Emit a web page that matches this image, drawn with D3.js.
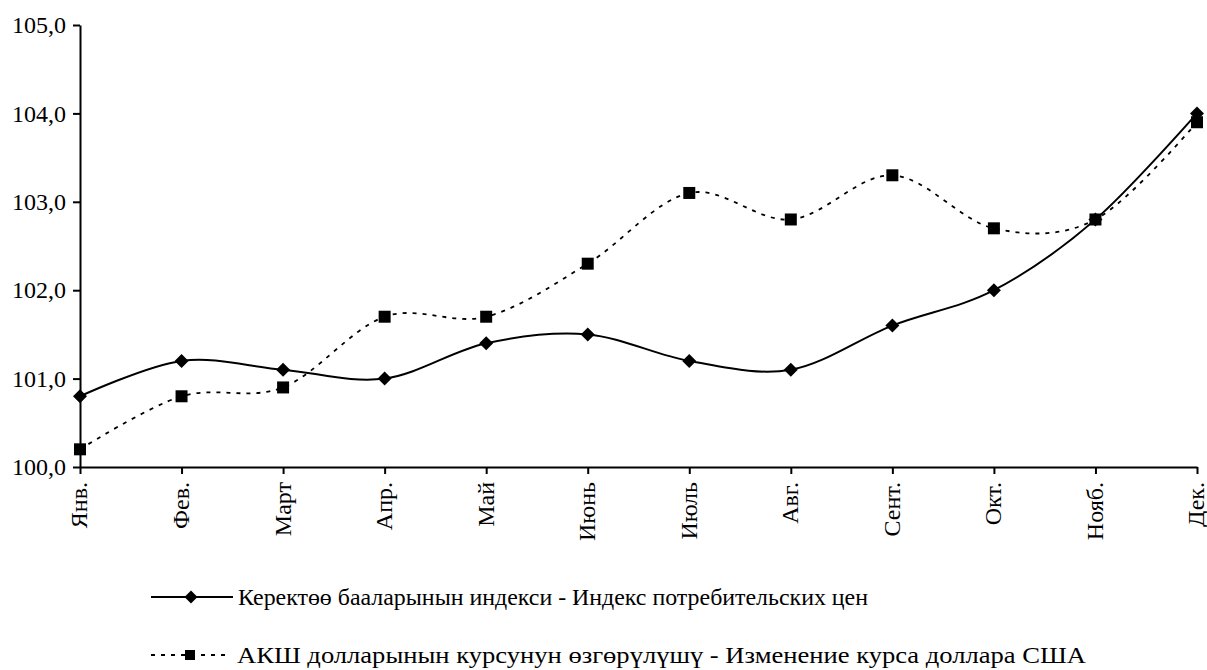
<!DOCTYPE html>
<html>
<head>
<meta charset="utf-8">
<script src="https://cdn.jsdelivr.net/npm/d3@7"></script>
<style>
	body { margin: 0; background: #fff; }
</style>
</head>
<body>
<svg id="chart" width="1207" height="670" viewBox="0 0 1207 670"></svg>
<script>
// months on the x axis
const months = ["Янв.", "Фев.", "Март", "Апр.", "Май", "Июнь", "Июль", "Авг.", "Сент.", "Окт.", "Нояб.", "Дек."];
// consumer price index
const cpi = [100.8, 101.2, 101.1, 101.0, 101.4, 101.5, 101.2, 101.1, 101.6, 102.0, 102.8, 104.0];
// change of USD rate
const usd = [100.2, 100.8, 100.9, 101.7, 101.7, 102.3, 103.1, 102.8, 103.3, 102.7, 102.8, 103.9];
const yTicks = [100, 101, 102, 103, 104, 105];
const legendLabels = [
	"Керектөө бааларынын индекси - Индекс потребительских цен",
	"АКШ долларынын курсунун өзгөрүлүшү - Изменение курса доллара США"
];

const FONT = "Liberation Serif";
const svg = d3.select("#chart");

const x = d3.scalePoint()
	.domain(months)
	.range([80, 1197]);

const y = d3.scaleLinear()
	.domain([100, 105])
	.range([467, 25]);

// y axis
const yAxis = svg.append("g")
	.attr("transform", "translate(80,0)")
	.call(d3.axisLeft(y).tickValues(yTicks).tickSize(7).tickSizeOuter(0)
		.tickFormat(d => d3.format(".1f")(d).replace(".", ",")));
yAxis.attr("font-family", null);
yAxis.select(".domain").attr("stroke", "#000").attr("stroke-width", 2);
yAxis.selectAll(".tick line").attr("stroke", "#000").attr("stroke-width", 2);
yAxis.selectAll(".tick text")
	.style("font-family", FONT)
	.style("font-size", "24px")
	.attr("fill", "#000")
	.attr("x", -14);

// x axis
const xAxis = svg.append("g")
	.attr("transform", "translate(0,467)")
	.call(d3.axisBottom(x).tickSize(7).tickSizeOuter(0));
xAxis.attr("font-family", null);
xAxis.select(".domain").attr("stroke", "#000").attr("stroke-width", 2);
xAxis.selectAll(".tick line").attr("stroke", "#000").attr("stroke-width", 2);
xAxis.selectAll(".tick text")
	.style("font-family", FONT)
	.style("font-size", "24px")
	.attr("fill", "#000")
	.attr("transform", "rotate(-90)")
	.attr("text-anchor", "end")
	.attr("x", -15)
	.attr("y", -1)
	.attr("dy", "0.33em");

const line = d3.line()
	.x((d, i) => x(months[i]))
	.y(d => y(d))
	.curve(d3.curveCatmullRom.alpha(0));

svg.append("path")
	.datum(usd)
	.attr("fill", "none")
	.attr("stroke", "#000")
	.attr("stroke-width", 1.8)
	.attr("stroke-dasharray", "4,6")
	.attr("d", line);

svg.append("path")
	.datum(cpi)
	.attr("fill", "none")
	.attr("stroke", "#000")
	.attr("stroke-width", 2)
	.attr("d", line);

const diamond = s => `M0,${-s}L${s},0L0,${s}L${-s},0Z`;
const square = s => `M${-s},${-s}H${s}V${s}H${-s}Z`;

svg.append("g").selectAll("path")
	.data(usd)
	.join("path")
	.attr("transform", (d, i) => `translate(${x(months[i])},${y(d)})`)
	.attr("d", square(6))
	.attr("fill", "#000");

svg.append("g").selectAll("path")
	.data(cpi)
	.join("path")
	.attr("transform", (d, i) => `translate(${x(months[i])},${y(d)})`)
	.attr("d", diamond(7))
	.attr("fill", "#000");

// legend
const legend = svg.append("g");
const leg1 = legend.append("g").attr("transform", "translate(151,597)");
leg1.append("line").attr("x1", 0).attr("x2", 82).attr("stroke", "#000").attr("stroke-width", 2);
leg1.append("path").attr("transform", "translate(40,0)").attr("d", diamond(6.5)).attr("fill", "#000");
leg1.append("text").attr("x", 87).attr("dy", "0.35em")
	.style("font-family", FONT).style("font-size", "24px")
	.attr("textLength", 630).attr("lengthAdjust", "spacingAndGlyphs")
	.text(legendLabels[0]);

const leg2 = legend.append("g").attr("transform", "translate(151,655)");
leg2.append("line").attr("x1", 0).attr("x2", 80).attr("stroke", "#000").attr("stroke-width", 1.8)
	.attr("stroke-dasharray", "4,6");
leg2.append("path").attr("transform", "translate(39,0)").attr("d", square(5)).attr("fill", "#000");
leg2.append("text").attr("x", 86).attr("dy", "0.35em")
	.style("font-family", FONT).style("font-size", "24px")
	.attr("textLength", 849).attr("lengthAdjust", "spacingAndGlyphs")
	.text(legendLabels[1]);
</script>
</body>
</html>
